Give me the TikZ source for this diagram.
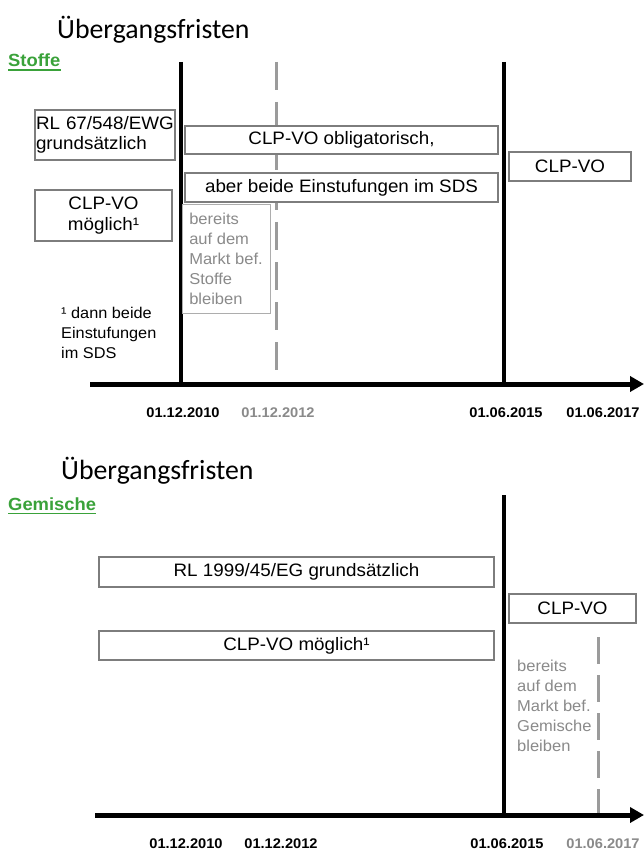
\documentclass[tikz,border=0pt]{standalone}
\usepackage{fontspec}
\setmainfont{Liberation Sans}[FakeStretch=1.045]
\newfontfamily\titlefont{Carlito}
\usetikzlibrary{arrows.meta,calc}
\definecolor{boxgray}{RGB}{125,125,125}
\definecolor{txtgray}{RGB}{138,138,138}
\definecolor{dashgray}{RGB}{155,155,155}
\definecolor{lgreen}{RGB}{58,162,58}
\begin{document}
\begin{tikzpicture}[x=1pt,y=-1pt,
  box/.style={draw=boxgray,line width=1.2pt,fill=white,inner xsep=1pt,inner ysep=1pt,
    font=\fontsize{18}{20.5}\selectfont},
  graytext/.style={text=txtgray,align=left,inner sep=0pt,font=\fontsize{15.8}{20}\selectfont},
  note/.style={align=left,inner sep=0pt,font=\fontsize{15.6}{20}\selectfont},
  title/.style={anchor=base west,inner sep=0pt,font=\titlefont\fontsize{27.8}{30}\selectfont},
  section/.style={anchor=base west,inner sep=0pt,text=lgreen,font=\bfseries\fontsize{17.6}{20}\selectfont},
  date/.style={anchor=base,inner sep=0pt,font=\bfseries\fontsize{14}{16}\selectfont},
  vline/.style={line width=3.2pt,black},
  dline/.style={line width=3pt,dashgray,dash pattern=on 28pt off 12pt},
  axis/.style={line width=5pt,black,-{Triangle[length=14pt,width=15pt]}},
  uline/.style={line width=1.8pt,lgreen}
]
\useasboundingbox (0,0) rectangle (644,850);
\fill[white] (0,0) rectangle (644,850);

% ================= Stoffe =================
\node[title] (t1) at (57,39) {Übergangsfristen};
\node[section] (s1) at (8,67) {Stoffe};
\draw[uline] ($(s1.base west)+(0,2.8)$) -- ($(s1.base east)+(0,2.8)$);

\coordinate (a1s) at (90,384);
\coordinate (a1e) at (644,384);
\coordinate (v1t) at (181,62);  \coordinate (v1b) at (181,384);
\coordinate (d1t) at (276,62);  \coordinate (d1b) at (276,382);
\coordinate (v2t) at (504,62);  \coordinate (v2b) at (504,384);
\draw[vline] (v1t) -- (v1b);
\draw[dline] (d1t) -- (d1b);
\draw[vline] (v2t) -- (v2b);
\draw[axis] (a1s) -- (a1e);

\node[box,minimum width=140pt,minimum height=50pt,text width=138pt,align=left] (rl67) at (105,135)
  {RL 67/548/EWG\\grundsätzlich};
\node[box,minimum width=137pt,minimum height=51pt,align=center] (clpm1) at (103.5,215.5)
  {CLP-VO\\möglich¹};
\node[box,minimum width=313pt,minimum height=28pt] (oblig) at (341.5,140)
  {CLP-VO obligatorisch,};
\node[box,minimum width=313pt,minimum height=29pt] (beide) at (341.5,187.5)
  {aber beide Einstufungen im SDS};
\node[box,minimum width=122pt,minimum height=29pt] (clp1) at (570,166.5) {CLP-VO};
\node[graytext,draw=txtgray!70,line width=1pt,fill=white,minimum width=88pt,minimum height=108pt] (ber1) at (226,259)
  {bereits\\auf dem\\Markt bef.\\Stoffe\\bleiben};
\node[note,anchor=north west] (fn1) at (61,307.2)
  {¹ dann beide\\Einstufungen\\im SDS};

\node[date] (dt11) at (183,417) {01.12.2010};
\node[date,text=txtgray] (dt12) at (278,417) {01.12.2012};
\node[date] (dt13) at (506,417) {01.06.2015};
\node[date] (dt14) at (603,417) {01.06.2017};

% ================= Gemische =================
\node[title] (t2) at (61,479) {Übergangsfristen};
\node[section] (s2) at (8,510) {Gemische};
\draw[uline] ($(s2.base west)+(0,3.5)$) -- ($(s2.base east)+(0,3.5)$);

\coordinate (a2s) at (95,815);
\coordinate (a2e) at (644,815);
\coordinate (v3t) at (504,495); \coordinate (v3b) at (504,815);
\coordinate (d2t) at (598,637); \coordinate (d2b) at (598,813);
\draw[vline] (v3t) -- (v3b);
\draw[dline,dash pattern=on 27pt off 11pt] (d2t) -- (d2b);
\draw[axis] (a2s) -- (a2e);

\node[box,minimum width=395pt,minimum height=30pt] (rl99) at (296.5,572)
  {RL 1999/45/EG grundsätzlich};
\node[box,minimum width=395pt,minimum height=29pt] (clpm2) at (296.5,645.5)
  {CLP-VO möglich¹};
\node[box,minimum width=127pt,minimum height=29pt] (clp2) at (572.5,608.5) {CLP-VO};
\node[graytext,anchor=north west] (ber2) at (517,660.2)
  {bereits\\auf dem\\Markt bef.\\Gemische\\bleiben};

\node[date] (dt21) at (186,848) {01.12.2010};
\node[date] (dt22) at (281,848) {01.12.2012};
\node[date] (dt23) at (507,848) {01.06.2015};
\node[date,text=txtgray] (dt24) at (603,848) {01.06.2017};
\end{tikzpicture}
\end{document}
